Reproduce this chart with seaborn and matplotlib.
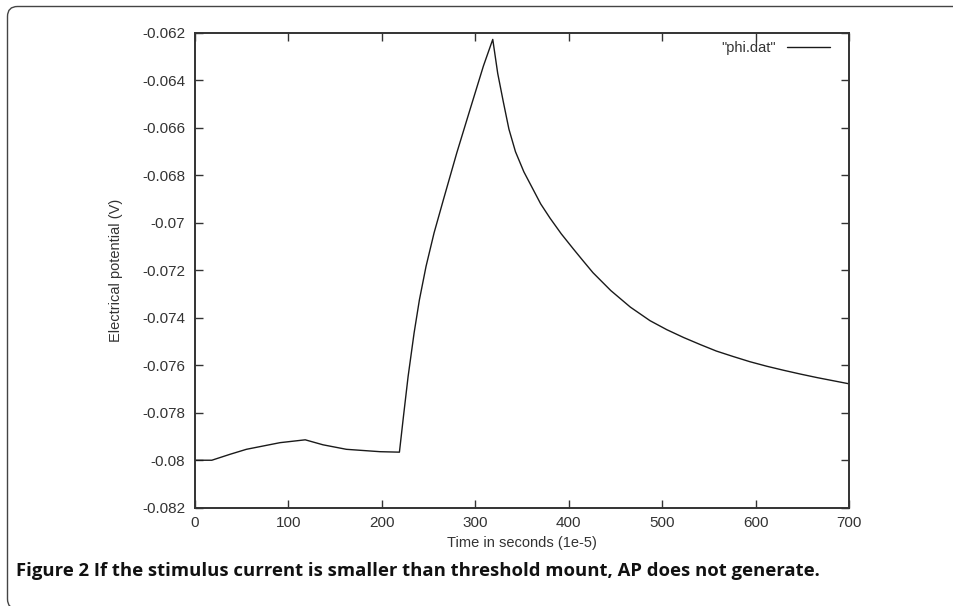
import matplotlib
matplotlib.use("Agg")
import matplotlib.pyplot as plt
import matplotlib.patches as mpatches
from matplotlib.path import Path
from matplotlib.transforms import IdentityTransform
import pandas as pd
import seaborn as sns

# Membrane potential trace from phi.dat (time in units of 1e-5 s, potential in V)
time_vals = [0, 18, 37.5, 55, 91, 118, 137, 162, 198, 218.8,
             223.1, 228.1, 234.5, 240.2, 247.3, 255.9, 265.9, 280.2, 294.4, 308.7, 318.7,
             324, 330, 336, 343, 352, 362, 370, 380, 392, 405, 415, 426, 445, 466, 487,
             505, 523, 541, 558, 576, 594, 612, 630, 648, 666, 683, 700]
phi_vals = [-0.0800, -0.0800, -0.07975, -0.07954, -0.07926, -0.07914, -0.07935, -0.07954, -0.07964,
            -0.07966,
            -0.07816, -0.07647, -0.07464, -0.07324, -0.07183, -0.07042, -0.06902, -0.06705,
            -0.06522, -0.06339, -0.06227,
            -0.0637, -0.0649, -0.06605, -0.0670, -0.06785, -0.0686, -0.0692, -0.0698, -0.07046,
            -0.0711, -0.07158, -0.0721, -0.07285, -0.07355, -0.07412,
            -0.0745, -0.07483, -0.07513, -0.0754, -0.07563, -0.07585, -0.07604, -0.07621,
            -0.07637, -0.07652, -0.07665, -0.07678]

x_ticks = [0, 100, 200, 300, 400, 500, 600, 700]
y_ticks = [-0.082, -0.080, -0.078, -0.076, -0.074, -0.072, -0.070, -0.068, -0.066, -0.064, -0.062]
y_tick_labels = ["-0.082", "-0.08", "-0.078", "-0.076", "-0.074", "-0.072", "-0.07",
                 "-0.068", "-0.066", "-0.064", "-0.062"]

series_name = '"phi.dat"'
x_label = "Time in seconds (1e-5)"
y_label = "Electrical potential (V)"
caption = "Figure 2 If the stimulus current is smaller than threshold mount, AP does not generate."

sns.set_style("ticks")
plt.rcParams["font.family"] = ["Liberation Sans", "DejaVu Sans"]

df = pd.DataFrame({"t": time_vals, "phi": phi_vals, "src": series_name})

fig = plt.figure(figsize=(9.54, 6.06), dpi=100)
ax = fig.add_axes([195 / 954, 1 - 507.7 / 606, (849 - 195) / 954, (507.7 - 33) / 606])

sns.lineplot(data=df, x="t", y="phi", hue="src", palette=["#1a1a1a"], linewidth=1.0,
             ax=ax, sort=False, estimator=None)

ax.set_xlim(0, 700)
ax.set_ylim(-0.082, -0.062)
ax.set_xticks(x_ticks)
ax.set_xticklabels([str(v) for v in x_ticks])
ax.set_yticks(y_ticks)
ax.set_yticklabels(y_tick_labels)

text_col = "#333333"
ax.tick_params(direction="in", length=6, width=1.0, color="#333333",
               top=True, right=True, labelsize=11, labelcolor=text_col)
ax.tick_params(axis="y", pad=7)
ax.tick_params(axis="x", pad=6)
for s in ax.spines.values():
    s.set_visible(True)
    s.set_linewidth(1.4)
    s.set_color("#333333")

ax.set_xlabel(x_label, fontsize=10.5, color=text_col, labelpad=4)
ax.set_ylabel(y_label, fontsize=10.5, color=text_col, labelpad=14)

leg = ax.legend(frameon=False, loc="upper right", markerfirst=False, fontsize=10.5,
                handlelength=3.0, borderaxespad=0.4, handletextpad=0.7, title=None,
                bbox_to_anchor=(1 - 7 / 654, 1 + 4 / 474))
for t in leg.get_texts():
    t.set_color(text_col)

# open rounded frame (top and left sides) around the figure panel, in pixel units
W, H = 954, 606
left, top, bottom, r = 7.5, H - 6.5, -3.0, 10.0
verts = [(W, top), (left + r, top), (left, top), (left, top - r),
         (left, bottom + r), (left, bottom), (left + r, bottom)]
codes = [Path.MOVETO, Path.LINETO, Path.CURVE3, Path.CURVE3,
         Path.LINETO, Path.CURVE3, Path.CURVE3]
frame = mpatches.PathPatch(Path(verts, codes), transform=IdentityTransform(), fill=False,
                           edgecolor="#444444", linewidth=1.0)
fig.patches.append(frame)

fig.text(16 / 954, 1 - 571 / 606, caption, fontsize=13.3, fontweight="bold",
         family=["Open Sans", "DejaVu Sans"], color="#111111", va="center", ha="left")

fig.savefig("out.png", dpi=100)
